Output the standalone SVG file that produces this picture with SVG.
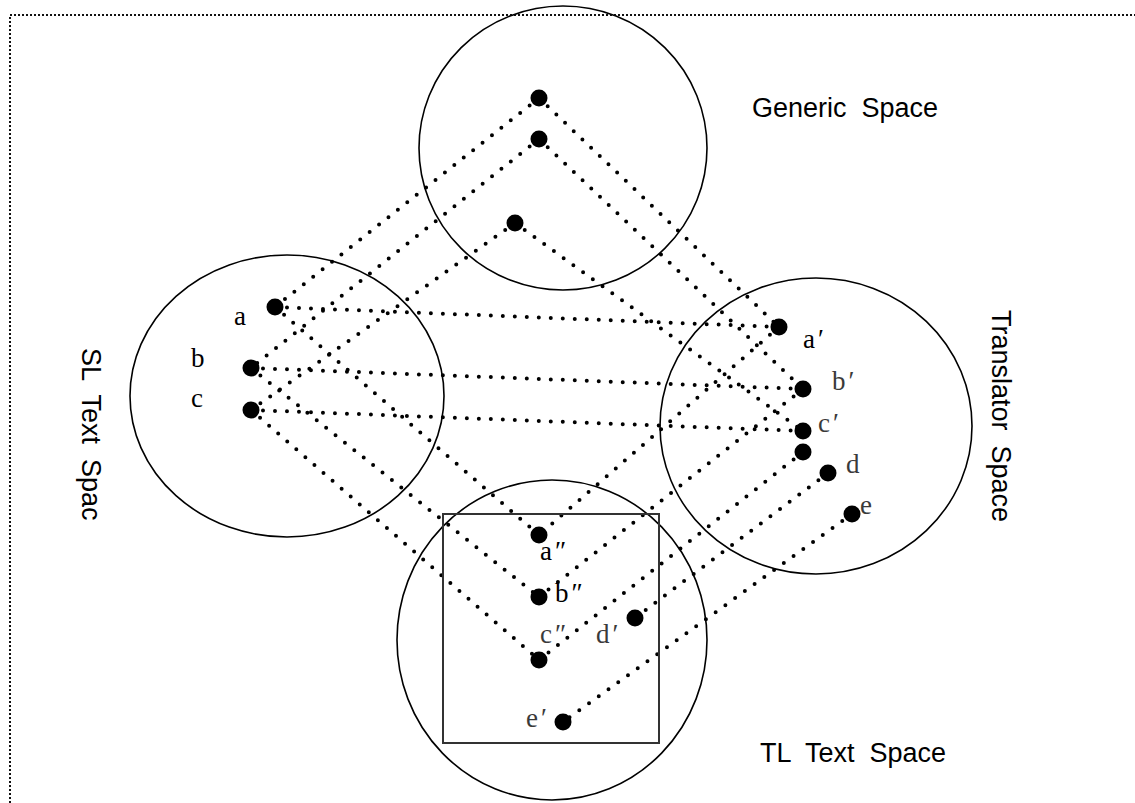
<svg xmlns="http://www.w3.org/2000/svg" width="1135" height="803" viewBox="0 0 1135 803">
<style>
.sp{fill:none;stroke:#000;stroke-width:1.6}
.dot{fill:#000}
.c{fill:none;stroke:#000;stroke-width:4;stroke-dasharray:0 12;stroke-linecap:round}
.lbl{font-family:"Liberation Serif",serif;font-size:27px;fill:#000}
.g{fill:#3a3a3a}
.tt{font-family:"Liberation Sans",Arial,sans-serif;font-size:27px;fill:#000;white-space:pre}
</style>
<rect x="10" y="15" width="1140" height="800" fill="none" stroke="#111" stroke-width="2" stroke-dasharray="2 2"/>
<g id="connectors">
<line class="c" x1="539" y1="98" x2="275" y2="307"/>
<line class="c" x1="539" y1="98" x2="779" y2="327"/>
<line class="c" x1="539" y1="139" x2="251" y2="368"/>
<line class="c" x1="539" y1="139" x2="803" y2="389"/>
<line class="c" x1="515" y1="223" x2="251" y2="410"/>
<line class="c" x1="515" y1="223" x2="803" y2="431"/>
<line class="c" x1="275" y1="307" x2="779" y2="327"/>
<line class="c" x1="251" y1="368" x2="803" y2="389"/>
<line class="c" x1="251" y1="410" x2="803" y2="431"/>
<line class="c" x1="275" y1="307" x2="539" y2="535"/>
<line class="c" x1="251" y1="368" x2="539" y2="597"/>
<line class="c" x1="251" y1="410" x2="539" y2="660"/>
<line class="c" x1="779" y1="327" x2="539" y2="535"/>
<line class="c" x1="803" y1="389" x2="539" y2="597"/>
<line class="c" x1="803" y1="452" x2="539" y2="660"/>
<line class="c" x1="828" y1="473" x2="635" y2="618"/>
<line class="c" x1="852" y1="514" x2="563" y2="722"/>
</g>
<g id="generic-space">
<ellipse class="sp" cx="563" cy="148" rx="144" ry="142"/>
<circle class="dot" cx="539" cy="98" r="8.5"/>
<circle class="dot" cx="539" cy="139" r="8.5"/>
<circle class="dot" cx="515" cy="223" r="8.5"/>
<text class="tt" x="752" y="117">Generic  Space</text>
</g>
<g id="sl-text-space">
<ellipse class="sp" cx="287" cy="396" rx="157" ry="141"/>
<circle class="dot" cx="275" cy="307" r="8.5"/>
<circle class="dot" cx="251" cy="368" r="8.5"/>
<circle class="dot" cx="251" cy="410" r="8.5"/>
<text class="lbl" x="234" y="325">a</text>
<text class="lbl" x="191" y="367">b</text>
<text class="lbl" x="191" y="407">c</text>
<text class="tt" transform="translate(82,348) rotate(90)">SL  Text  Spac</text>
</g>
<g id="translator-space">
<ellipse class="sp" cx="816" cy="426" rx="156" ry="148"/>
<circle class="dot" cx="779" cy="327" r="8.5"/>
<circle class="dot" cx="803" cy="389" r="8.5"/>
<circle class="dot" cx="803" cy="431" r="8.5"/>
<circle class="dot" cx="803" cy="452" r="8.5"/>
<circle class="dot" cx="828" cy="473" r="8.5"/>
<circle class="dot" cx="852" cy="514" r="8.5"/>
<text class="lbl" x="803" y="348">a<tspan dx="3">′</tspan></text>
<text class="lbl g" x="832" y="390">b<tspan dx="3">′</tspan></text>
<text class="lbl g" x="818" y="432">c<tspan dx="3">′</tspan></text>
<text class="lbl g" x="846" y="473">d</text>
<text class="lbl g" x="860" y="514">e</text>
<text class="tt" transform="translate(992,310) rotate(90)">Translator  Space</text>
</g>
<g id="tl-text-space">
<ellipse class="sp" cx="552" cy="640" rx="155" ry="160"/>
<rect x="443" y="514" width="216" height="229" fill="none" stroke="#333" stroke-width="2"/>
<circle class="dot" cx="539" cy="535" r="8.5"/>
<circle class="dot" cx="539" cy="597" r="8.5"/>
<circle class="dot" cx="539" cy="660" r="8.5"/>
<circle class="dot" cx="635" cy="618" r="8.5"/>
<circle class="dot" cx="563" cy="722" r="8.5"/>
<text class="lbl" x="540" y="560">a<tspan dx="3">″</tspan></text>
<text class="lbl" x="555" y="602">b<tspan dx="3">″</tspan></text>
<text class="lbl g" x="540" y="643">c<tspan dx="3">″</tspan></text>
<text class="lbl g" x="596" y="643">d<tspan dx="3">′</tspan></text>
<text class="lbl g" x="526" y="727">e<tspan dx="3">′</tspan></text>
<text class="tt" x="760" y="762">TL  Text  Space</text>
</g>
</svg>
